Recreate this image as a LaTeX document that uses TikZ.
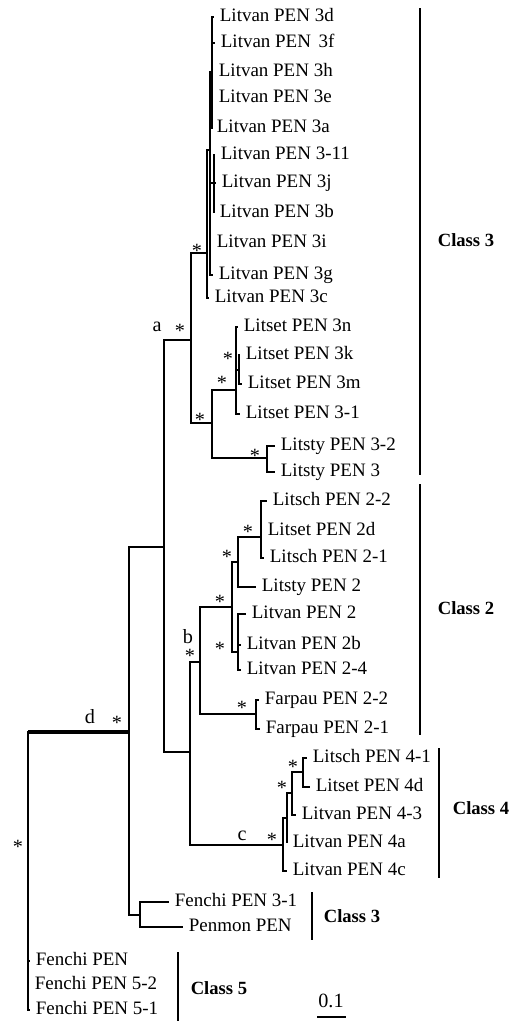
\documentclass[tikz,border=0pt]{standalone}
\usepackage{fontspec}
\setmainfont{Liberation Serif}
\usetikzlibrary{positioning}

\tikzset{
  leaf/.style={anchor=west, inner sep=3pt, text height=7pt, text depth=2pt,
    font=\fontsize{10.8}{12}\selectfont},
  boot/.style={inner sep=0pt, font=\fontsize{11.5}{12}\selectfont},
  clsname/.style={font=\fontsize{10.6}{12}\selectfont\bfseries},
  classbar/.style={line width=1.4pt},
}

\begin{document}
\begin{tikzpicture}[x=0.02cm, y=-0.02cm, line width=0.7pt]
        \useasboundingbox (0,0) rectangle (510,1021);
        % internal nodes of the tree
        \coordinate (r) at (28,843);
        \coordinate (d) at (129,732);
        \coordinate (n1) at (164,547);
        \coordinate (a) at (191,340);
        \coordinate (v0) at (207,253);
        \coordinate (v1) at (210,150);
        \coordinate (vt) at (212,72);
        \coordinate (vm) at (214,183);
        \coordinate (s) at (212,423);
        \coordinate (s0) at (236,390);
        \coordinate (s1) at (239,370);
        \coordinate (y3) at (267,458);
        \coordinate (bc) at (190,752);
        \coordinate (b) at (200,662);
        \coordinate (n2a) at (232,607);
        \coordinate (n2b) at (238,562);
        \coordinate (lc) at (261,537);
        \coordinate (n2c) at (238,652);
        \coordinate (fp2) at (256,714);
        \coordinate (c) at (283,845);
        \coordinate (c1) at (287,818);
        \coordinate (c2) at (292,793);
        \coordinate (c3) at (303,772);
        \coordinate (fp) at (140,915);

        % class 3 (Litvan)
        \node[leaf] (t3d) at (214,17) {Litvan PEN 3d};
        \node[leaf] (t3f) at (215,43) {Litvan PEN\hspace{0.4em}3f};
        \node[leaf] (t3h) at (213,72) {Litvan PEN 3h};
        \node[leaf] (t3e) at (213,98) {Litvan PEN 3e};
        \node[leaf] (t3a) at (211,128) {Litvan PEN 3a};
        \node[leaf] (t311) at (215,155) {Litvan PEN 3-11};
        \node[leaf] (t3j) at (216,183) {Litvan PEN 3j};
        \node[leaf] (t3b) at (214,213) {Litvan PEN 3b};
        \node[leaf] (t3i) at (211,243) {Litvan PEN 3i};
        \node[leaf] (t3g) at (213,275) {Litvan PEN 3g};
        \node[leaf] (t3c) at (209,298) {Litvan PEN 3c};
        % class 3 (Litset, Litsty)
        \node[leaf] (t3n) at (238,327) {Litset PEN 3n};
        \node[leaf] (t3k) at (240,355) {Litset PEN 3k};
        \node[leaf] (t3m) at (242,384) {Litset PEN 3m};
        \node[leaf] (t31) at (240,414) {Litset PEN 3-1};
        \node[leaf] (ty32) at (275,446) {Litsty PEN 3-2};
        \node[leaf] (ty3) at (275,472) {Litsty PEN 3};
        % class 2
        \node[leaf] (tl22) at (267,501) {Litsch PEN 2-2};
        \node[leaf] (tl2d) at (262,531) {Litset PEN 2d};
        \node[leaf] (tl21) at (264,558) {Litsch PEN 2-1};
        \node[leaf] (ty2) at (256,587) {Litsty PEN 2};
        \node[leaf] (tv2) at (246,614) {Litvan PEN 2};
        \node[leaf] (tv2b) at (241,645) {Litvan PEN 2b};
        \node[leaf] (tv24) at (241,670) {Litvan PEN 2-4};
        \node[leaf] (tf22) at (259,700) {Farpau PEN 2-2};
        \node[leaf] (tf21) at (260,729) {Farpau PEN 2-1};
        % class 4
        \node[leaf] (t41) at (307,758) {Litsch PEN 4-1};
        \node[leaf] (t4d) at (310,787) {Litset PEN 4d};
        \node[leaf] (t43) at (296,815) {Litvan PEN 4-3};
        \node[leaf] (t4a) at (287,843) {Litvan PEN 4a};
        \node[leaf] (t4c) at (287,871) {Litvan PEN 4c};
        % lower class 3 and class 5
        \node[leaf] (tf31) at (169,902) {Fenchi PEN 3-1};
        \node[leaf] (tpen) at (183,927) {Penmon PEN};
        \node[leaf] (tf) at (30,961) {Fenchi PEN};
        \node[leaf] (tf52) at (29,985) {Fenchi PEN 5-2};
        \node[leaf] (tf51) at (30,1010) {Fenchi PEN 5-1};

        % branches
        \draw (r) |- (d);
        \draw[line width=2.2pt] (r |- d) -- (d);
        \draw (r) |- (tf.west) (r) |- (tf52.west) (r) |- (tf51.west);
        \draw (d) |- (n1) (d) |- (fp);
        \draw (fp) |- (tf31.west) (fp) |- (tpen.west);
        \draw (n1) |- (a) (n1) |- (bc);
        \draw (a) |- (v0) (a) |- (s);
        \draw (v0) |- (v1) (v0) |- (t3c.west);
        \draw (v1) |- (vt) (v1) |- (vm) (v1) |- (t3i.west) (v1) |- (t3g.west);
        \draw (vt) |- (t3d.west) (vt) |- (t3f.west) (vt) |- (t3h.west)
              (vt) |- (t3e.west) (vt) |- (t3a.west);
        \draw (vm) |- (t311.west) (vm) |- (t3j.west) (vm) |- (t3b.west);
        \draw (s) |- (s0) (s) |- (y3);
        \draw (s0) |- (t3n.west) (s0) |- (s1) (s0) |- (t31.west);
        \draw (s1) |- (t3k.west) (s1) |- (t3m.west);
        \draw (y3) |- (ty32.west) (y3) |- (ty3.west);
        \draw (bc) |- (b) (bc) |- (c);
        \draw (b) |- (n2a) (b) |- (fp2);
        \draw (n2a) |- (n2b) (n2a) |- (n2c);
        \draw (n2b) |- (lc) (n2b) |- (ty2.west);
        \draw (lc) |- (tl22.west) (lc) |- (tl2d.west) (lc) |- (tl21.west);
        \draw (n2c) |- (tv2.west) (n2c) |- (tv2b.west) (n2c) |- (tv24.west);
        \draw (fp2) |- (tf22.west) (fp2) |- (tf21.west);
        \draw (c) |- (c1) (c) |- (t4c.west);
        \draw (c1) |- (c2) (c1) |- (t4a.west);
        \draw (c2) |- (c3) (c2) |- (t43.west);
        \draw (c3) |- (t41.west) (c3) |- (t4d.west);

        % support marks and branch letters
        \node[boot] (br) at (18,847) {*};
        \node[boot] (bd) at (117,723) {*};
        \node[boot] (ba) at (180,331) {*};
        \node[boot] (bv0) at (197,251) {*};
        \node[boot] (bs) at (200,420) {*};
        \node[boot] (bs0) at (222,383) {*};
        \node[boot] (bs1) at (228,359) {*};
        \node[boot] (by3) at (255,456) {*};
        \node[boot] (bb) at (190,656) {*};
        \node[boot] (bn2a) at (220,602) {*};
        \node[boot] (bn2b) at (227,557) {*};
        \node[boot] (blc) at (248,532) {*};
        \node[boot] (bn2c) at (220,649) {*};
        \node[boot] (bfp2) at (242,708) {*};
        \node[boot] (bc4) at (272,840) {*};
        \node[boot] (bc2) at (282,788) {*};
        \node[boot] (bc3) at (293,767) {*};
        \node[boot] (ld) at (90,717) {d};
        \node[boot] (la) at (157,327) {a};
        \node[boot] (lb) at (188,637) {b};
        \node[boot] (lcc) at (242,836) {c};

        % class bars
        \draw[classbar] (420,8) -- (420,475);
        \node[clsname] (k3) at (466,240) {Class 3};
        \draw[classbar] (420,484) -- (420,735);
        \node[clsname] (k2) at (466,608) {Class 2};
        \draw[classbar] (439,748) -- (439,878);
        \node[clsname] (k4) at (481,808) {Class 4};
        \draw[classbar] (312,892) -- (312,940);
        \node[clsname] (k3b) at (352,916) {Class 3};
        \draw[classbar] (178,952) -- (178,1021);
        \node[clsname] (k5) at (219,988) {Class 5};

        % scale
        \node[boot] (sc) at (331,1001) {0.1};
        \draw (317,1017) -- (346,1017);
      \end{tikzpicture}
\end{document}
